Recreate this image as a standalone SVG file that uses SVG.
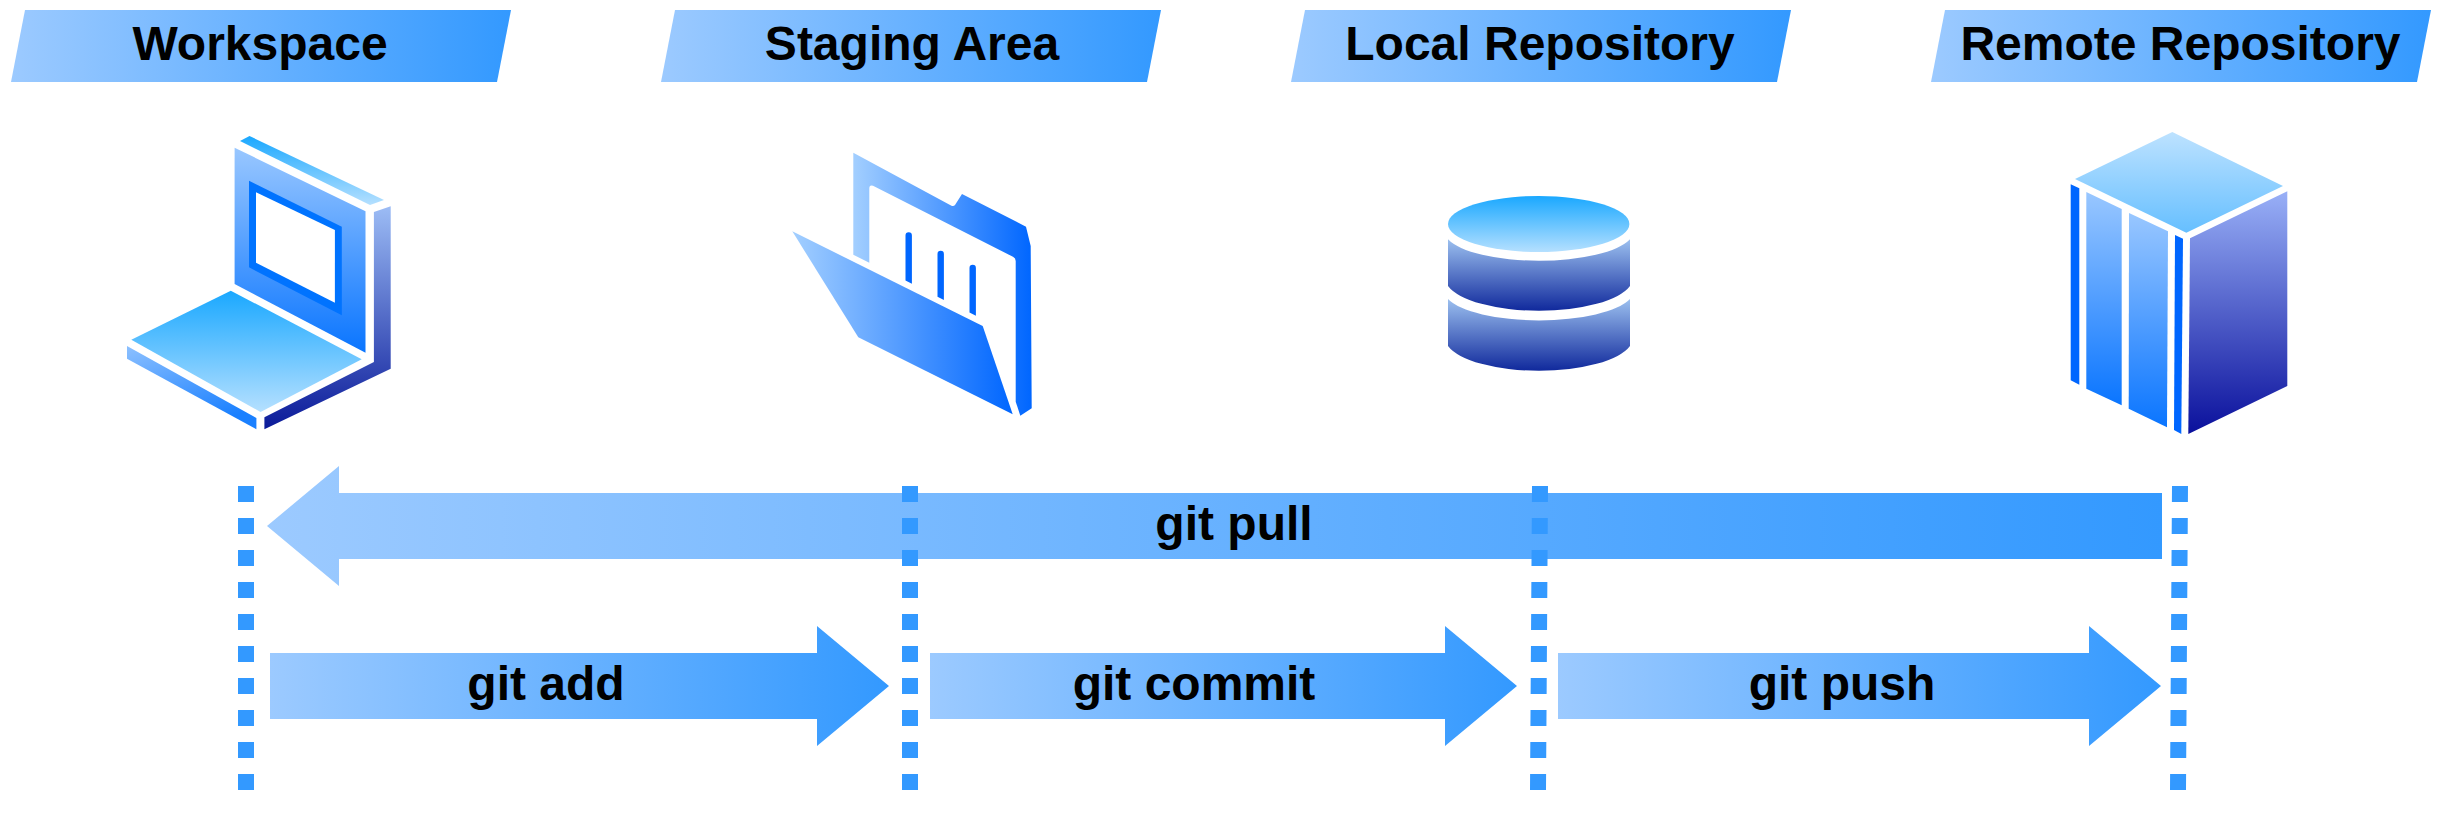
<svg xmlns="http://www.w3.org/2000/svg" width="2440" height="816" viewBox="0 0 2440 816">
<defs>
<linearGradient id="h"><stop offset="0" stop-color="#9ccaff"/><stop offset="1" stop-color="#3399ff"/></linearGradient>
<linearGradient id="f"><stop offset="0" stop-color="#a3cfff"/><stop offset="1" stop-color="#0066ff"/></linearGradient>
<linearGradient id="sky" x1="0" y1="0" x2="0" y2="1"><stop offset="0" stop-color="#1aa8ff"/><stop offset="1" stop-color="#b5e0ff"/></linearGradient>
<linearGradient id="skyr" x1="0" y1="1" x2="0" y2="0"><stop offset="0" stop-color="#66bfff"/><stop offset="1" stop-color="#bde2ff"/></linearGradient>
<linearGradient id="blue" x1="0" y1="0" x2="0" y2="1"><stop offset="0" stop-color="#99c7ff"/><stop offset="1" stop-color="#0a75ff"/></linearGradient>
<linearGradient id="navy" x1="0" y1="0" x2="0" y2="1"><stop offset="0" stop-color="#9cbcf5"/><stop offset="1" stop-color="#0a1a99"/></linearGradient>
<linearGradient id="navy2" x1="0" y1="0" x2="0" y2="1"><stop offset="0" stop-color="#99b0f7"/><stop offset="1" stop-color="#0a109c"/></linearGradient>
<linearGradient id="cyl" x1="0" y1="0" x2="0" y2="1"><stop offset="0" stop-color="#9cc0ef"/><stop offset="1" stop-color="#10299c"/></linearGradient>
<linearGradient id="base" x1="0" y1="0" x2="0.5" y2="1"><stop offset="0" stop-color="#8cc0ff"/><stop offset="1" stop-color="#1a80ff"/></linearGradient>
</defs>
<style>
.t{font-family:"Liberation Sans",Arial,sans-serif;font-weight:700;font-size:48px;fill:#000;text-anchor:middle}
.d{fill:none;stroke:#3399ff;stroke-width:16;stroke-dasharray:16 16}
.s{fill:#0066ff}
</style>
<g id="banner-workspace"><polygon points="25,10 511,10 497,82 11,82" fill="url(#h)"/><text class="t" x="260" y="60">Workspace</text></g>
<g id="banner-staging"><polygon points="675,10 1161,10 1147,82 661,82" fill="url(#h)"/><text class="t" x="912" y="60">Staging Area</text></g>
<g id="banner-local"><polygon points="1305,10 1791,10 1777,82 1291,82" fill="url(#h)"/><text class="t" x="1540" y="60">Local Repository</text></g>
<g id="banner-remote"><polygon points="1945,10 2431,10 2417,82 1931,82" fill="url(#h)"/><text class="t" x="2180.500" y="60">Remote Repository</text></g>

<g id="laptop">
<polygon points="240,141 249.500,136 384,200 370,205" fill="url(#sky)"/>
<polygon points="234.600,147.700 365.500,211.300 365.500,352.700 234.600,284" fill="url(#blue)"/>
<polygon points="249,180.700 341.800,226.700 341.800,315.300 249,267.300" fill="#0073ff"/>
<polygon points="256,192.300 334.900,230 334.900,302.700 256,262.700" fill="#fff"/>
<polygon points="230.800,290.700 361.700,359.300 260.600,412 131.300,339.700" fill="url(#sky)"/>
<polygon points="127,346 256.400,418 256.400,429.300 127,358.700" fill="url(#base)"/>
<polygon points="373.900,212 390.700,206.300 390.700,368.700 264.400,429.300 264.400,417.300 373.900,362" fill="url(#navy)"/>
</g>

<g id="folder">
<path d="M853.300 152.700L951 205.500Q953.500 206.800 955 205L962 194L1026 226.700L1030.700 246L1031.700 408.300L1020.300 415.700L1015.700 401.700V261Q1015.700 258.300 1013 256.800L873 185.800Q869.300 184.500 869.300 188.500V262.700L853.300 254.700Z" fill="url(#f)"/>
<path class="s" d="M905.500 235.500a3.200 3.200 0 0 1 6.400 0V283.700L905.500 280.500Z"/>
<path class="s" d="M937.500 254a3.200 3.200 0 0 1 6.400 0V300L937.500 296.800Z"/>
<path class="s" d="M969.500 268a3.200 3.200 0 0 1 6.400 0V315.700L969.500 312.500Z"/>
<polygon points="792.300,231.300 982.700,326 1012.700,414.300 858.300,337.300" fill="url(#f)"/>
</g>

<g id="database">
<ellipse cx="1538.700" cy="224" rx="90.700" ry="28" fill="url(#sky)"/>
<path d="M1448 239.300A95 30 0 0 0 1630 239.300V286A94 33 0 0 1 1448 286Z" fill="url(#cyl)"/>
<path d="M1448 299A95 30 0 0 0 1630 299V346A94 33 0 0 1 1448 346Z" fill="url(#cyl)"/>
</g>

<g id="server">
<polygon points="2172.300,132 2283,186 2186.300,232.700 2075,179" fill="url(#skyr)"/>
<polygon points="2287.300,191.300 2287.300,386 2188.300,434 2190,238.300" fill="url(#navy2)"/>
<polygon class="s" points="2070.700,184.300 2079.300,188.300 2079.300,384.700 2070.700,380.300"/>
<polygon points="2086.300,192 2121.700,209 2121.700,405.300 2086.300,388.700" fill="url(#blue)"/>
<polygon points="2129,213 2168,231.300 2167,427.300 2128.700,408.700" fill="url(#blue)"/>
<polygon class="s" points="2175,235 2183,238.700 2181.300,434 2174,430"/>
</g>

<g id="connectors">
<polygon points="267,526 339,466 339,493 2162,493 2162,559 339,559 339,586" fill="url(#h)"/>
<polygon points="270,653 817,653 817,626 889,686 817,746 817,719 270,719" fill="url(#h)"/>
<polygon points="930,653 1445,653 1445,626 1517,686 1445,746 1445,719 930,719" fill="url(#h)"/>
<polygon points="1558,653 2089,653 2089,626 2161,686 2089,746 2089,719 1558,719" fill="url(#h)"/>
<line class="d" x1="246" y1="486" x2="246" y2="790"/>
<line class="d" x1="910" y1="486" x2="910" y2="790"/>
<line class="d" x1="1540" y1="486" x2="1538" y2="790"/>
<line class="d" x1="2180" y1="486" x2="2178" y2="790"/>
<text class="t" x="1234" y="540">git pull</text>
<text class="t" x="546" y="700">git add</text>
<text class="t" x="1194" y="700">git commit</text>
<text class="t" x="1842" y="700">git push</text>
</g>
</svg>
